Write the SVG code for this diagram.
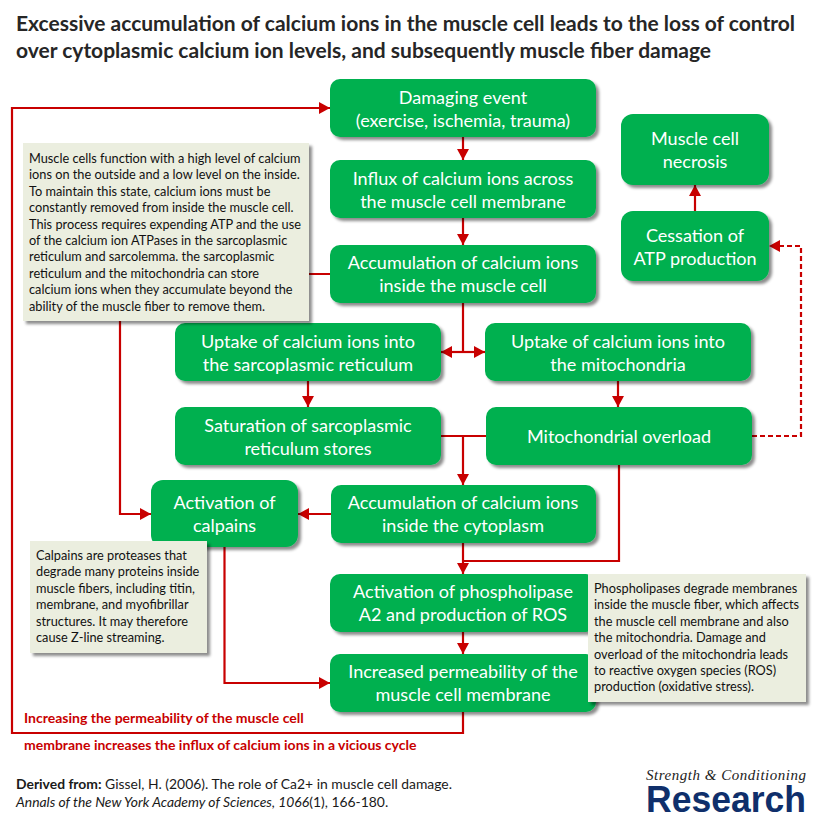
<svg xmlns="http://www.w3.org/2000/svg" width="820" height="820" viewBox="0 0 820 820">
<defs>
<filter id="sh" x="-10%" y="-10%" width="125%" height="130%"><feDropShadow dx="3" dy="3" stdDeviation="1.8" flood-color="#000" flood-opacity="0.45"/></filter>
<marker id="ah" markerUnits="userSpaceOnUse" markerWidth="12" markerHeight="12" refX="11" refY="6" orient="auto-start-reverse"><path d="M0 0L11 6L0 12Z" fill="#C80000"/></marker>
</defs>
<style>
.n{fill:#00B050;filter:url(#sh)}
.t{fill:#fff;font:18.05px Lato,"Open Sans",sans-serif;text-anchor:middle}
.note{fill:#EBEEDF;filter:url(#sh)}
.nt{fill:#111;font:12.75px Lato,"Open Sans",sans-serif}
.c{fill:none;stroke:#C80000;stroke-width:2.2}
.a{marker-end:url(#ah)}
.d{stroke-dasharray:5 3}
.r{fill:#C80000;font:bold 14px Lato,sans-serif}
.f{fill:#1a1a1a;font:13.9px Lato,sans-serif}
.h{fill:#262626;font:bold 21px Lato,"Open Sans",sans-serif}
</style>
<rect width="820" height="820" fill="#fff"/>
<g id="title"><text class="h" x="16" y="31">Excessive accumulation of calcium ions in the muscle cell leads to the loss of control</text><text class="h" x="16" y="58">over cytoplasmic calcium ion levels, and subsequently muscle fiber damage</text></g>
<g id="connectors">
<path class="c a" d="M463 712V733H12V108H330"/>
<path class="c" d="M330 274H120V321"/>
<path class="c a" d="M120 321V514H151"/>
<path class="c a" d="M224.500 547V683H330"/>
<path class="c a" d="M331 514H298"/>
<path class="c a" d="M463 137V160"/>
<path class="c a" d="M463 218V245"/>
<path class="c" d="M463 303V352"/>
<path class="c a" d="M463 352H441"/>
<path class="c a" d="M463 352H485"/>
<path class="c a" d="M308 381V407"/>
<path class="c a" d="M618 381V407"/>
<path class="c" d="M441 436H486"/>
<path class="c a" d="M463 436V485"/>
<path class="c a" d="M463 543V574"/>
<path class="c" d="M619 465V561H463"/>
<path class="c a" d="M463 632V654"/>
<path class="c a" d="M695 211V185"/>
<path class="c a d" d="M752 436H801V246H769"/>
</g>
<g id="n1"><rect class="n" x="330" y="79" width="266" height="58" rx="10"/><text class="t" x="463" y="104">Damaging event</text><text class="t" x="463" y="127">(exercise, ischemia, trauma)</text></g>
<g id="n2"><rect class="n" x="330" y="160" width="266" height="58" rx="10"/><text class="t" x="463" y="185">Influx of calcium ions across</text><text class="t" x="463" y="208">the muscle cell membrane</text></g>
<g id="n3"><rect class="n" x="330" y="245" width="266" height="58" rx="10"/><text class="t" x="463" y="269">Accumulation of calcium ions</text><text class="t" x="463" y="292">inside the muscle cell</text></g>
<g id="n4"><rect class="n" x="621" y="114" width="148" height="71" rx="12"/><text class="t" x="695" y="145">Muscle cell</text><text class="t" x="695" y="168">necrosis</text></g>
<g id="n5"><rect class="n" x="621" y="211" width="148" height="70" rx="12"/><text class="t" x="695" y="242">Cessation of</text><text class="t" x="695" y="265">ATP production</text></g>
<g id="n6"><rect class="n" x="175" y="323" width="266" height="58" rx="10"/><text class="t" x="308" y="348">Uptake of calcium ions into</text><text class="t" x="308" y="371">the sarcoplasmic reticulum</text></g>
<g id="n7"><rect class="n" x="485" y="323" width="266" height="58" rx="10"/><text class="t" x="618" y="348">Uptake of calcium ions into</text><text class="t" x="618" y="371">the mitochondria</text></g>
<g id="n8"><rect class="n" x="175" y="407" width="266" height="58" rx="10"/><text class="t" x="308" y="432">Saturation of sarcoplasmic</text><text class="t" x="308" y="455">reticulum stores</text></g>
<g id="n9"><rect class="n" x="486" y="407" width="266" height="58" rx="10"/><text class="t" x="619" y="443">Mitochondrial overload</text></g>
<g id="n10"><rect class="n" x="151" y="480" width="147" height="67" rx="12"/><text class="t" x="224.500" y="509">Activation of</text><text class="t" x="224.500" y="532">calpains</text></g>
<g id="n11"><rect class="n" x="331" y="485" width="265" height="58" rx="10"/><text class="t" x="463" y="509">Accumulation of calcium ions</text><text class="t" x="463" y="532">inside the cytoplasm</text></g>
<g id="n12"><rect class="n" x="330" y="574" width="266" height="58" rx="10"/><text class="t" x="463" y="598">Activation of phospholipase</text><text class="t" x="463" y="621">A2 and production of ROS</text></g>
<g id="n13"><rect class="n" x="330" y="654" width="266" height="58" rx="10"/><text class="t" x="463" y="678">Increased permeability of the</text><text class="t" x="463" y="701">muscle cell membrane</text></g>
<g id="note1"><rect class="note" x="23" y="143" width="286" height="178"/>
<text class="nt" x="29" y="163">Muscle cells function with a high level of calcium</text>
<text class="nt" x="29" y="179.400">ions on the outside and a low level on the inside.</text>
<text class="nt" x="29" y="195.800">To maintain this state, calcium ions must be</text>
<text class="nt" x="29" y="212.200">constantly removed from inside the muscle cell.</text>
<text class="nt" x="29" y="228.600">This process requires expending ATP and the use</text>
<text class="nt" x="29" y="245">of the calcium ion ATPases in the sarcoplasmic</text>
<text class="nt" x="29" y="261.400">reticulum and sarcolemma. the sarcoplasmic</text>
<text class="nt" x="29" y="277.800">reticulum and the mitochondria can store</text>
<text class="nt" x="29" y="294.200">calcium ions when they accumulate beyond the</text>
<text class="nt" x="29" y="310.600">ability of the muscle fiber to remove them.</text></g>
<g id="note2"><rect class="note" x="30" y="541" width="177" height="112"/>
<text class="nt" x="36" y="560">Calpains are proteases that</text>
<text class="nt" x="36" y="576.400">degrade many proteins inside</text>
<text class="nt" x="36" y="592.800">muscle fibers, including titin,</text>
<text class="nt" x="36" y="609.200">membrane, and myofibrillar</text>
<text class="nt" x="36" y="625.600">structures. It may therefore</text>
<text class="nt" x="36" y="642">cause Z-line streaming.</text></g>
<g id="note3"><rect class="note" x="588" y="574" width="218" height="128"/>
<text class="nt" x="594" y="593">Phospholipases degrade membranes</text>
<text class="nt" x="594" y="609.400">inside the muscle fiber, which affects</text>
<text class="nt" x="594" y="625.800">the muscle cell membrane and also</text>
<text class="nt" x="594" y="642.200">the mitochondria. Damage and</text>
<text class="nt" x="594" y="658.600">overload of the mitochondria leads</text>
<text class="nt" x="594" y="675">to reactive oxygen species (ROS)</text>
<text class="nt" x="594" y="691.400">production (oxidative stress).</text></g>
<g id="labels"><text class="r" x="24" y="723">Increasing the permeability of the muscle cell</text><text class="r" x="24" y="750">membrane increases the influx of calcium ions in a vicious cycle</text></g>
<g id="footer"><text class="f" x="16" y="789"><tspan font-weight="bold">Derived from:</tspan> Gissel, H. (2006). The role of Ca2+ in muscle cell damage.</text><text class="f" x="16" y="806.500"><tspan font-style="italic">Annals of the New York Academy of Sciences, 1066</tspan>(1), 166-180.</text></g>
<g id="logo"><text x="646" y="780" fill="#222" font-family="'Liberation Serif',serif" font-style="italic" font-size="15" textLength="160">Strength &amp; Conditioning</text><text x="646" y="812" fill="#0F2F6B" font-family="'Liberation Sans',sans-serif" font-weight="bold" font-size="37" textLength="160" lengthAdjust="spacingAndGlyphs">Research</text></g>
</svg>
